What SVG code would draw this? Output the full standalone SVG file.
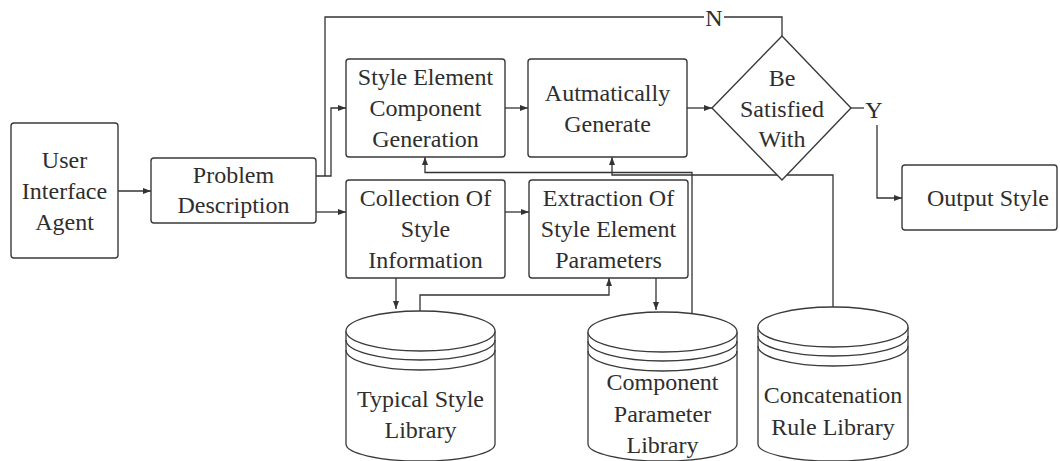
<svg xmlns="http://www.w3.org/2000/svg" width="1060" height="461" viewBox="0 0 1060 461">
  <style>
    .box { fill: #ffffff; stroke: #3a3a3a; stroke-width: 1.4; }
    .db { fill: #ffffff; stroke: #3a3a3a; stroke-width: 1.3; }
    .arc { fill: none; stroke: #3a3a3a; stroke-width: 1.3; }
    .wire { fill: none; stroke: #333333; stroke-width: 1.3; }
    .arrow { marker-end: url(#head); }
    .lbl { font-size: 24px; fill: #2e2e2e; text-anchor: middle; }
  </style>
  <defs>
    <marker id="head" markerUnits="userSpaceOnUse" markerWidth="9" markerHeight="7" refX="8" refY="3" orient="auto">
      <path d="M0,0 L8,3 L0,6 z" fill="#333333"/>
    </marker>
  </defs>
  <rect width="1060" height="461" fill="#ffffff"/>

  <g font-family="Liberation Serif, Tinos, DejaVu Serif, serif">
  <!-- connectors -->
  <g id="connectors">
    <path class="wire arrow" d="M118,191 H151"/>
    <path class="wire arrow" d="M316,176 H331 V108 H346"/>
    <path class="wire arrow" d="M316,212 H346"/>
    <path class="wire arrow" d="M505,108 H528"/>
    <path class="wire arrow" d="M687,108 H712"/>
    <path class="wire" d="M782,36 V17 H325 V176"/>
    <path class="wire" d="M851,108 H864"/>
    <path class="wire arrow" d="M877,125 V198 H902"/>
    <path class="wire arrow" d="M505,212 H529"/>
    <path class="wire arrow" d="M396,278 V309"/>
    <path class="wire arrow" d="M420,311 V295 H609 V278"/>
    <path class="wire arrow" d="M656,278 V310"/>
    <path class="wire arrow" d="M692,314 V172.5 H425 V157"/>
    <path class="wire arrow" d="M833,307 V175 H612 V157"/>
    <!-- branch labels -->
    <rect x="704" y="5" width="20" height="26" fill="#ffffff"/>
    <text class="lbl" x="714" y="26">N</text>
    <rect x="864" y="96" width="20" height="28" fill="#ffffff"/>
    <text class="lbl" x="874" y="118">Y</text>
  </g>

  <g id="user-interface-agent">
    <rect class="box" x="11" y="123" width="107" height="135" rx="3"/>
    <text class="lbl" x="64.5" y="167.5">User</text>
    <text class="lbl" x="64.5" y="198.5">Interface</text>
    <text class="lbl" x="64.5" y="229.5">Agent</text>
  </g>

  <g id="problem-description">
    <rect class="box" x="151" y="158" width="165" height="65" rx="3"/>
    <text class="lbl" x="233.5" y="183">Problem</text>
    <text class="lbl" x="233.5" y="213">Description</text>
  </g>

  <g id="style-element-component-generation">
    <rect class="box" x="346" y="59" width="159" height="98" rx="3"/>
    <text class="lbl" x="425.5" y="85">Style Element</text>
    <text class="lbl" x="425.5" y="116">Component</text>
    <text class="lbl" x="425.5" y="147">Generation</text>
  </g>

  <g id="automatically-generate">
    <rect class="box" x="528" y="59" width="159" height="98" rx="3"/>
    <text class="lbl" x="607.5" y="100.5">Autmatically</text>
    <text class="lbl" x="607.5" y="131.5">Generate</text>
  </g>

  <g id="be-satisfied-with">
    <polygon class="box" points="782,36 851,108 782,180 712,108"/>
    <text class="lbl" x="782" y="86">Be</text>
    <text class="lbl" x="782" y="117">Satisfied</text>
    <text class="lbl" x="782" y="147">With</text>
  </g>

  <g id="output-style">
    <rect class="box" x="902" y="165" width="155" height="65" rx="3"/>
    <text class="lbl" x="988" y="205.5">Output Style</text>
  </g>

  <g id="collection-of-style-information">
    <rect class="box" x="346" y="180" width="159" height="98" rx="3"/>
    <text class="lbl" x="425.5" y="206">Collection Of</text>
    <text class="lbl" x="425.5" y="237">Style</text>
    <text class="lbl" x="425.5" y="268">Information</text>
  </g>

  <g id="extraction-of-style-element-parameters">
    <rect class="box" x="529" y="180" width="159" height="98" rx="3"/>
    <text class="lbl" x="608.5" y="206">Extraction Of</text>
    <text class="lbl" x="608.5" y="237">Style Element</text>
    <text class="lbl" x="608.5" y="268">Parameters</text>
  </g>

  <g id="typical-style-library">
    <path class="db" d="M346,331 V444 A74.5,17 0 0 0 495,444 V331"/>
    <ellipse class="db" cx="420.5" cy="331" rx="74.5" ry="20"/>
    <path class="arc" d="M346,340 A74.5,20 0 0 0 495,340"/>
    <path class="arc" d="M346,350 A74.5,20 0 0 0 495,350"/>
    <text class="lbl" x="420.5" y="407">Typical Style</text>
    <text class="lbl" x="420.5" y="438">Library</text>
  </g>

  <g id="component-parameter-library">
    <path class="db" d="M588,332 V444 A74.5,17 0 0 0 737,444 V332"/>
    <ellipse class="db" cx="662.5" cy="332" rx="74.5" ry="20"/>
    <path class="arc" d="M588,341 A74.5,20 0 0 0 737,341"/>
    <path class="arc" d="M588,351 A74.5,20 0 0 0 737,351"/>
    <text class="lbl" x="662.5" y="390">Component</text>
    <text class="lbl" x="662.5" y="422">Parameter</text>
    <text class="lbl" x="662.5" y="453">Library</text>
  </g>

  <g id="concatenation-rule-library">
    <path class="db" d="M758,327 V444 A75,17 0 0 0 908,444 V327"/>
    <ellipse class="db" cx="833" cy="327" rx="75" ry="20"/>
    <path class="arc" d="M758,336 A75,20 0 0 0 908,336"/>
    <path class="arc" d="M758,346 A75,20 0 0 0 908,346"/>
    <text class="lbl" x="833" y="403">Concatenation</text>
    <text class="lbl" x="833" y="435">Rule Library</text>
  </g>
  </g>
</svg>
